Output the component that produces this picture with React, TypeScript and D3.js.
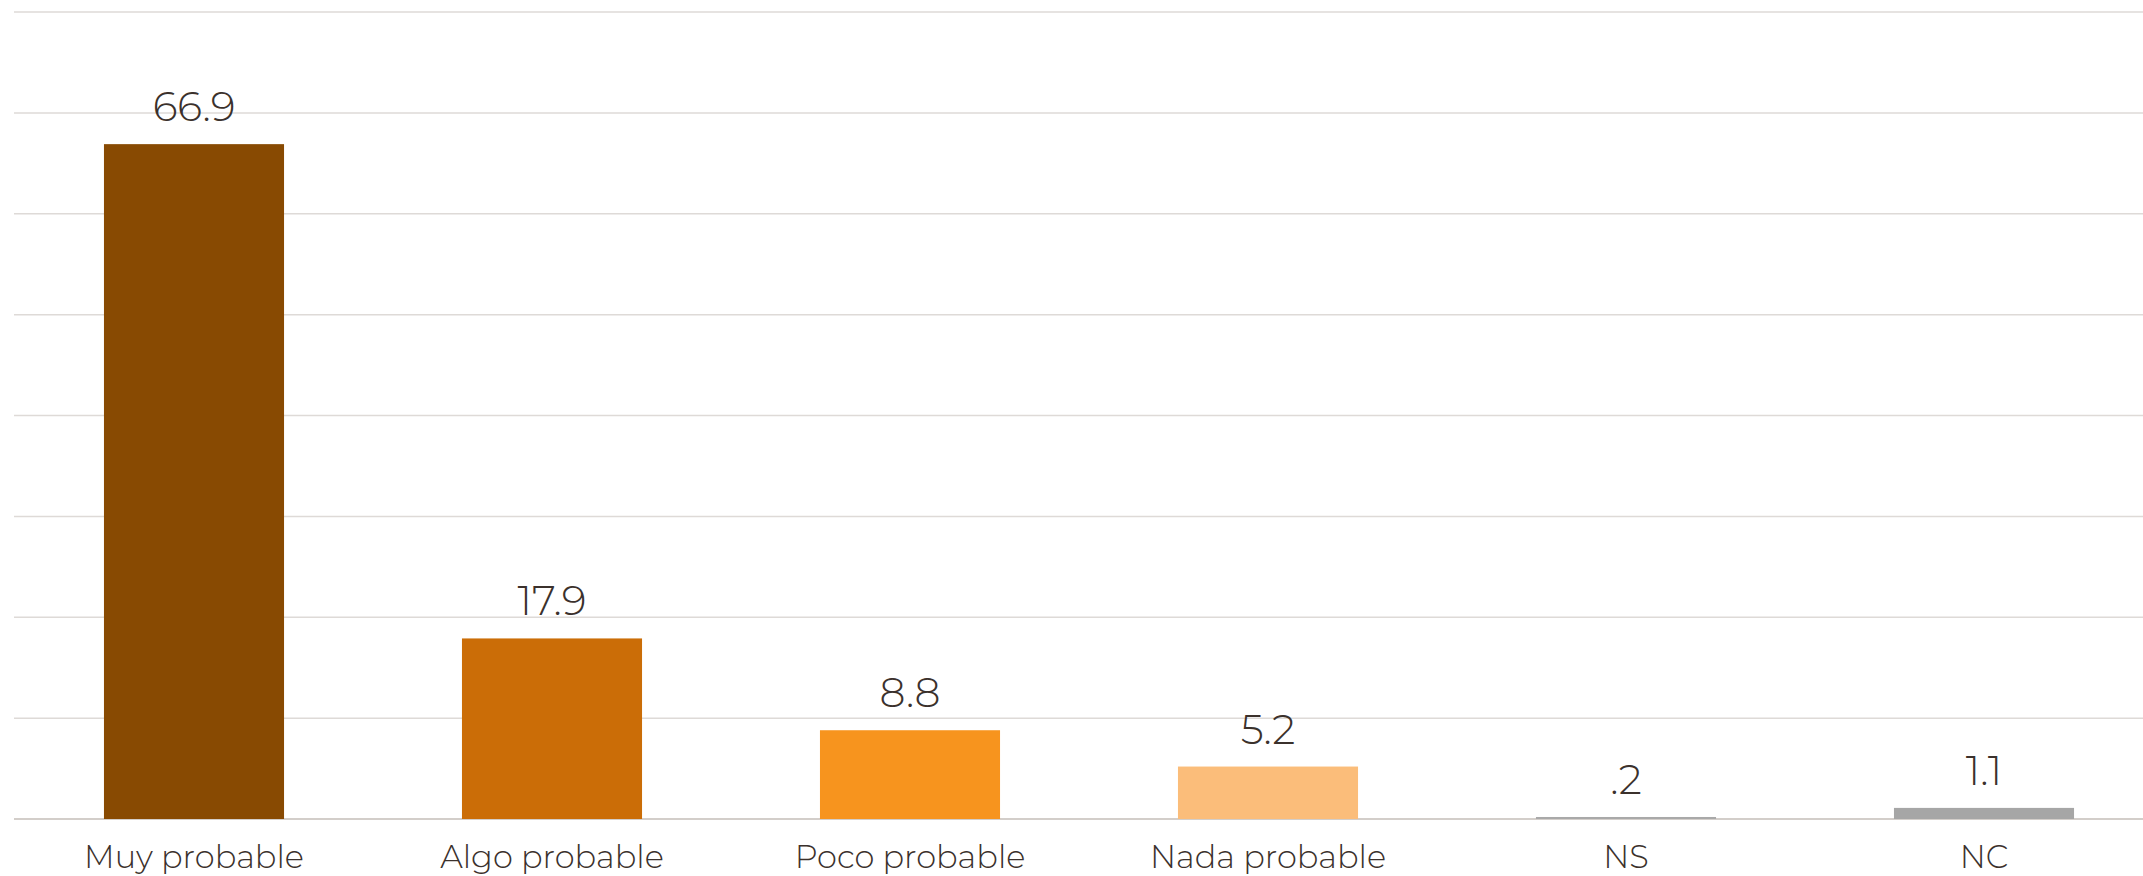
import React from "react";
import * as d3 from "d3";

const categories = ["Muy probable", "Algo probable", "Poco probable", "Nada probable", "NS", "NC"];
const values = [66.9, 17.9, 8.8, 5.2, 0.2, 1.1];
const valueLabels = ["66.9", "17.9", "8.8", "5.2", ".2", "1.1"];
const colors = ["#884A02", "#CB6D07", "#F7941E", "#FBBD7A", "#A9A9A9", "#A6A6A6"];
const gridTicks = [0, 10, 20, 30, 40, 50, 60, 70, 80];

const W = 2143;
const H = 876;
const FONT = 'Montserrat, "DejaVu Sans", sans-serif';
const TEXT = "#3B312C";

export default function App() {
  const x = d3
    .scaleBand<string>()
    .domain(categories)
    .range([15, 15 + 358 * 6])
    .paddingInner(0.497)
    .paddingOuter(0.2485);
  const y = d3.scaleLinear().domain([0, 80]).range([819, 12]);

  return (
    <svg
      width={W}
      height={H}
      style={{ position: "absolute", left: 0, top: 0, background: "#fff" }}
    >
      {gridTicks.map((t) => (
        <line
          key={t}
          x1={14}
          x2={W}
          y1={y(t)}
          y2={y(t)}
          stroke={t === 0 ? "#D3CECA" : "#DEDAD7"}
          strokeWidth={t === 0 ? 2 : 1.5}
        />
      ))}
      {categories.map((c, i) => {
        const h = y(0) - y(values[i]);
        return (
          <rect
            key={c}
            x={x(c)}
            y={y(values[i])}
            width={x.bandwidth()}
            height={Math.max(h, 1.5)}
            fill={colors[i]}
          />
        );
      })}
      {categories.map((c, i) => (
        <text
          key={"v" + c}
          x={(x(c) as number) + x.bandwidth() / 2}
          y={y(values[i]) - 23}
          textAnchor="middle"
          fontFamily={FONT}
          fontSize={41}
          fontWeight={300}
          fill={TEXT}
        >
          {valueLabels[i]}
        </text>
      ))}
      {categories.map((c) => (
        <text
          key={"c" + c}
          x={(x(c) as number) + x.bandwidth() / 2}
          y={868}
          textAnchor="middle"
          fontFamily={FONT}
          fontSize={32}
          fontWeight={300}
          fill={TEXT}
        >
          {c}
        </text>
      ))}
    </svg>
  );
}
